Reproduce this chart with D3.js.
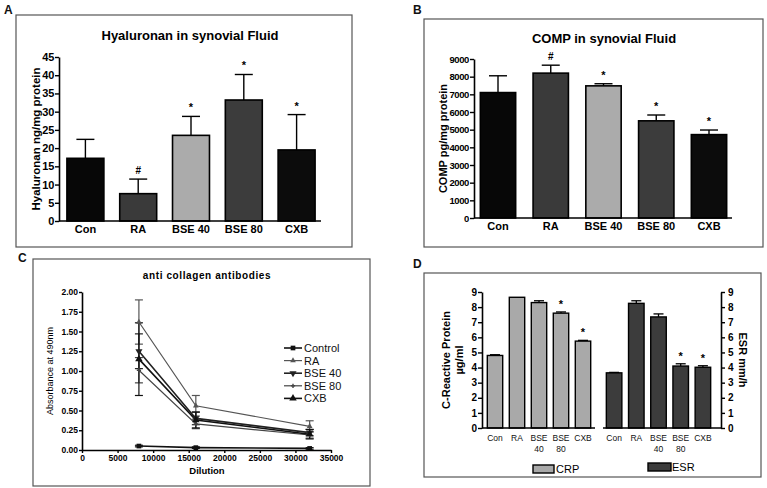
<!DOCTYPE html>
<html><head><meta charset="utf-8">
<script src="https://cdn.jsdelivr.net/npm/d3@7"></script>
<style>
body{margin:0;background:#fff;}
svg{display:block;font-family:"Liberation Sans",Arial,sans-serif;}
</style></head><body>
<svg id="c" width="767" height="488"></svg>
<script>
// ---------- DATA ----------
const groups = ["Con","RA","BSE 40","BSE 80","CXB"];
const hyaMean = [17.2, 7.5, 23.5, 33.2, 19.5];
const hyaErr  = [5.2, 4.0, 5.2, 7.0, 9.7];
const hyaMark = ["", "#", "*", "*", "*"];
const hyaTicks = [0,5,10,15,20,25,30,35,40,45];

const compMean = [7100, 8200, 7480, 5500, 4720];
const compErr  = [950, 450, 120, 330, 260];
const compMark = ["", "#", "*", "*", "*"];
const compTicks = [0,1000,2000,3000,4000,5000,6000,7000,8000,9000];

const barFills = ["#070707","#3a3a3a","#ababab","#3c3c3c","#0c0c0c"];

const dilutions = [8000, 16000, 32000];
const seriesNames = ["Control","RA","BSE 40","BSE 80","CXB"];
const absControl = [0.05, 0.03, 0.02];
const absRA      = [1.62, 0.56, 0.30];
const absBSE40   = [1.25, 0.40, 0.22];
const absBSE80   = [1.01, 0.33, 0.19];
const absCXB     = [1.15, 0.38, 0.20];
const errControl = [0.01, 0.01, 0.01];
const errRA      = [0.28, 0.13, 0.07];
const errBSE40   = [0.22, 0.08, 0.04];
const errBSE80   = [0.16, 0.06, 0.04];
const errCXB     = [0.46, 0.10, 0.06];
const absTicks = [0,0.25,0.5,0.75,1.0,1.25,1.5,1.75,2.0];
const dilTicks = [0,5000,10000,15000,20000,25000,30000,35000];

const dLabels = [["Con"],["RA"],["BSE","40"],["BSE","80"],["CXB"]];
const crpMean = [4.8, 8.65, 8.3, 7.6, 5.75];
const crpErr  = [0.05, 0.0, 0.12, 0.08, 0.05];
const crpMark = ["","","","*","*"];
const esrMean = [3.65, 8.25, 7.35, 4.1, 4.02];
const esrErr  = [0.03, 0.17, 0.2, 0.15, 0.1];
const esrMark = ["","","","*","*"];
const dTicks = [0,1,2,3,4,5,6,7,8,9];

// ---------- DRAW ----------
const svg = d3.select("#c");
const FONT = "Liberation Sans, Arial, sans-serif";

function panelBox(x,y,w,h,label,lx,ly){
  svg.append("rect").attr("x",x).attr("y",y).attr("width",w).attr("height",h)
    .attr("fill","none").attr("stroke","#555").attr("stroke-width",1.2);
  svg.append("text").attr("x",lx).attr("y",ly).text(label)
    .attr("font-size",12).attr("font-weight","bold").attr("fill","#111");
}

function styleAxis(g, fs, ls){
  g.selectAll("path.domain").attr("stroke","#000").attr("stroke-width",1.6);
  g.selectAll(".tick line").attr("stroke","#000").attr("stroke-width",1.4);
  g.selectAll(".tick text").attr("font-family",FONT).attr("font-weight","bold")
    .attr("font-size",fs).attr("fill","#000").attr("letter-spacing",ls||0);
}

function barPanel(cfg){
  const x = d3.scaleBand().domain(groups).range([cfg.x0, cfg.x1]).paddingInner(cfg.pad).paddingOuter(cfg.outer);
  const y = d3.scaleLinear().domain([0, cfg.ymax]).range([cfg.y0, cfg.ytop]);
  const g = svg.append("g");
  groups.forEach((c,i)=>{
    const cx = x(c)+x.bandwidth()/2;
    const top = y(cfg.mean[i]+cfg.err[i]);
    g.append("line").attr("x1",cx).attr("x2",cx).attr("y1",y(cfg.mean[i])).attr("y2",top)
      .attr("stroke","#000").attr("stroke-width",1.4);
    g.append("line").attr("x1",cx-9).attr("x2",cx+9).attr("y1",top).attr("y2",top)
      .attr("stroke","#000").attr("stroke-width",1.4);
    if(cfg.mark[i]) g.append("text").attr("x",cx).attr("y",top-5).attr("text-anchor","middle")
      .attr("font-size",cfg.mark[i]=="#"?10:11).attr("font-weight","bold").text(cfg.mark[i]);
  });
  g.selectAll("rect.bar").data(cfg.mean).enter().append("rect")
    .attr("x",(d,i)=>x(groups[i])).attr("width",x.bandwidth())
    .attr("y",d=>y(d)).attr("height",d=>cfg.y0-y(d))
    .attr("fill",(d,i)=>barFills[i]).attr("stroke","#000").attr("stroke-width",1.6);
  const ya = g.append("g").attr("transform",`translate(${cfg.ax},0)`)
    .call(d3.axisLeft(y).tickValues(cfg.ticks).tickSize(4).tickSizeOuter(0).tickPadding(1).tickFormat(d3.format("d")));
  styleAxis(ya, cfg.tfs, cfg.tls);
  const xa = g.append("g").attr("transform",`translate(0,${cfg.y0})`)
    .call(d3.axisBottom(x).tickSize(0).tickSizeOuter(0).tickPadding(4));
  xa.select("path.domain").attr("d",`M${cfg.ax},0H${cfg.x1+cfg.xext}`);
  styleAxis(xa, 11);
  g.append("text").attr("x",cfg.tx).attr("y",cfg.ty).attr("text-anchor","middle")
    .attr("font-size",13).attr("font-weight","bold").text(cfg.title);
  g.append("text").attr("transform",`translate(${cfg.lx},${(cfg.y0+cfg.ytop)/2}) rotate(-90)`)
    .attr("text-anchor","middle").attr("font-size",cfg.lfs).attr("font-weight","bold").text(cfg.ylabel);
}

// Panel A
panelBox(16,15,336,232,"A",4,14);
barPanel({x0:59,x1:323,pad:0.3,outer:0.15,ymax:45,y0:221,ytop:57,ax:59,xext:-2,
  mean:hyaMean,err:hyaErr,mark:hyaMark,ticks:hyaTicks,tfs:11,tls:-0.3,
  title:"Hyaluronan in synovial Fluid",tx:190,ty:40,lx:40,lfs:11.5,ylabel:"Hyaluronan ng/mg protein"});

// Panel B
panelBox(424,19,339,228,"B",413,14);
barPanel({x0:474,x1:733,pad:0.33,outer:0.12,ymax:9000,y0:218,ytop:59,ax:474,xext:-1,
  mean:compMean,err:compErr,mark:compMark,ticks:compTicks,tfs:9.5,tls:-0.4,
  title:"COMP in synovial Fluid",tx:604,ty:43,lx:447,lfs:11,ylabel:"COMP pg/mg protein"});

// Panel C
panelBox(33,259,337,227,"C",18,262);
{
  const x = d3.scaleLinear().domain([0,35000]).range([82,331]);
  const y = d3.scaleLinear().domain([0,2]).range([450,292]);
  const g = svg.append("g");
  const allMeans = [absControl,absRA,absBSE40,absBSE80,absCXB];
  const allErr = [errControl,errRA,errBSE40,errBSE80,errCXB];
  const colors = ["#111","#555","#222","#444","#111"];
  const widths = [1.6,1.2,1.6,1.2,1.6];
  const line = d3.line().x((d,i)=>x(dilutions[i])).y(d=>y(d));
  allMeans.forEach((m,s)=>{
    g.append("path").attr("d",line(m)).attr("fill","none").attr("stroke",colors[s]).attr("stroke-width",widths[s]);
    m.forEach((v,i)=>{
      const cx=x(dilutions[i]), e=allErr[s][i];
      g.append("line").attr("x1",cx).attr("x2",cx).attr("y1",y(v-e)).attr("y2",y(v+e)).attr("stroke",colors[s]).attr("stroke-width",1.2);
      [v-e,v+e].forEach(t=>g.append("line").attr("x1",cx-4).attr("x2",cx+4).attr("y1",y(t)).attr("y2",y(t)).attr("stroke",colors[s]).attr("stroke-width",1.2));
    });
  });
  const symbols=[d3.symbolSquare,d3.symbolTriangle,d3.symbolTriangle,d3.symbolCross,d3.symbolTriangle];
  const sizes=[22,14,22,10,24];
  const rot=[0,0,180,0,0];
  function marker(sel,s,cx,cy){
    sel.append("path").attr("d",d3.symbol().type(symbols[s]).size(sizes[s])())
      .attr("transform",`translate(${cx},${cy}) rotate(${rot[s]})`).attr("fill",colors[s]);
  }
  allMeans.forEach((m,s)=>m.forEach((v,i)=>marker(g,s,x(dilutions[i]),y(v))));
  const ya = g.append("g").attr("transform","translate(82,0)")
    .call(d3.axisLeft(y).tickValues(absTicks).tickSize(3).tickSizeOuter(0).tickPadding(1).tickFormat(d3.format(".2f")));
  styleAxis(ya,8.5);
  const xa = g.append("g").attr("transform","translate(0,450)")
    .call(d3.axisBottom(x).tickValues(dilTicks).tickSize(3).tickSizeOuter(0).tickPadding(2).tickFormat(d3.format("d")));
  styleAxis(xa,8.5);
  g.append("text").attr("x",207).attr("y",279).attr("text-anchor","middle").attr("font-size",10)
    .attr("font-weight","bold").attr("letter-spacing","0.6").text("anti collagen antibodies");
  g.append("text").attr("x",207).attr("y",474).attr("text-anchor","middle").attr("font-size",9.5)
    .attr("font-weight","bold").text("Dilution");
  g.append("text").attr("transform","translate(53,371) rotate(-90)").attr("text-anchor","middle")
    .attr("font-size",9).text("Absorbance at 490nm");
  const leg = g.append("g");
  seriesNames.forEach((n,s)=>{
    const ly = 348 + s*12.6;
    leg.append("line").attr("x1",284).attr("x2",302).attr("y1",ly).attr("y2",ly).attr("stroke",colors[s]).attr("stroke-width",widths[s]);
    marker(leg,s,293,ly);
    leg.append("text").attr("x",304).attr("y",ly+4).attr("font-size",11).attr("fill","#111").text(n);
  });
}

// Panel D
panelBox(424,273,337,204,"D",413,268);
{
  const y = d3.scaleLinear().domain([0,9]).range([428,292]);
  const g = svg.append("g");
  const xc = d3.scaleBand().domain(d3.range(5)).range([484,594]).paddingInner(0.3).paddingOuter(0.15);
  const xe = d3.scaleBand().domain(d3.range(5)).range([603,714]).paddingInner(0.3).paddingOuter(0.15);
  function bars(xs,mean,err,mark,fill){
    mean.forEach((v,i)=>{
      const cx = xs(i)+xs.bandwidth()/2;
      if(err[i]>0){
        g.append("line").attr("x1",cx).attr("x2",cx).attr("y1",y(v)).attr("y2",y(v+err[i])).attr("stroke","#000").attr("stroke-width",1.3);
        g.append("line").attr("x1",cx-5).attr("x2",cx+5).attr("y1",y(v+err[i])).attr("y2",y(v+err[i])).attr("stroke","#000").attr("stroke-width",1.3);
      }
      if(mark[i]) g.append("text").attr("x",cx).attr("y",y(v+err[i])-4).attr("text-anchor","middle")
        .attr("font-size",11).attr("font-weight","bold").text(mark[i]);
      g.append("rect").attr("x",xs(i)).attr("width",xs.bandwidth()).attr("y",y(v)).attr("height",428-y(v))
        .attr("fill",fill).attr("stroke","#000").attr("stroke-width",1.4);
      dLabels[i].forEach((t,k)=>g.append("text").attr("x",cx).attr("y",441+k*11).attr("text-anchor","middle")
        .attr("font-size",8.5).attr("fill","#111").text(t));
    });
  }
  bars(xc,crpMean,crpErr,crpMark,"#a9a9a9");
  bars(xe,esrMean,esrErr,esrMark,"#3c3c3c");
  const yl = g.append("g").attr("transform","translate(482,0)")
    .call(d3.axisLeft(y).tickValues(dTicks).tickSize(4).tickSizeOuter(0).tickPadding(1));
  styleAxis(yl,10);
  const yr = g.append("g").attr("transform","translate(721,0)")
    .call(d3.axisRight(y).tickValues(dTicks).tickSize(4).tickSizeOuter(0).tickPadding(3));
  styleAxis(yr,10);
  g.append("line").attr("x1",482).attr("x2",595).attr("y1",428).attr("y2",428).attr("stroke","#000").attr("stroke-width",1.6);
  g.append("line").attr("x1",603).attr("x2",721).attr("y1",428).attr("y2",428).attr("stroke","#000").attr("stroke-width",1.6);
  g.append("text").attr("transform","translate(450,360) rotate(-90)").attr("text-anchor","middle")
    .attr("font-size",11).attr("font-weight","bold").text("C-Reactive Protein");
  g.append("text").attr("transform","translate(463,360) rotate(-90)").attr("text-anchor","middle")
    .attr("font-size",11).attr("font-weight","bold").text("µg/ml");
  g.append("text").attr("transform","translate(739,360) rotate(90)").attr("text-anchor","middle")
    .attr("font-size",11).attr("font-weight","bold").text("ESR mm/h");
  g.append("rect").attr("x",533).attr("y",465).attr("width",21).attr("height",8).attr("fill","#a9a9a9").attr("stroke","#000").attr("stroke-width",1.4);
  g.append("text").attr("x",556).attr("y",473).attr("font-size",11).text("CRP");
  g.append("rect").attr("x",648).attr("y",463).attr("width",23).attr("height",8).attr("fill","#3c3c3c").attr("stroke","#000").attr("stroke-width",1.4);
  g.append("text").attr("x",672).attr("y",471).attr("font-size",11).text("ESR");
}
</script>
</body></html>
